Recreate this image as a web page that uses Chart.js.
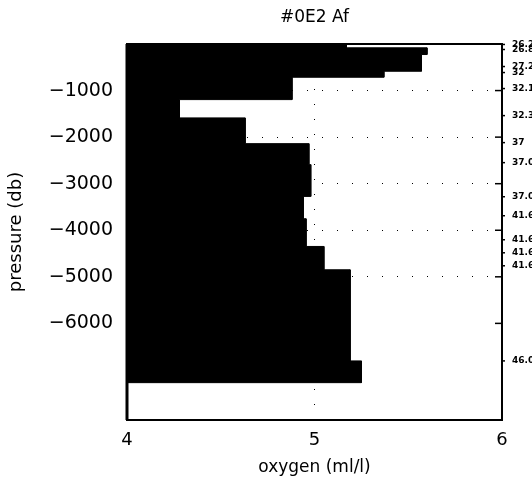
<!DOCTYPE html>
<html>
<head>
<meta charset="utf-8">
<script src="https://cdn.jsdelivr.net/npm/chart.js@4/dist/chart.umd.min.js"></script>
<style>
  html, body { margin: 0; padding: 0; background: #fff; }
</style>
</head>
<body>
<canvas id="chart" width="532" height="481"></canvas>
<script>
// layers of the oxygen profile (pressure in db, oxygen in ml/l)
const layerTop    = [0, -82, -226, -585, -714, -1194, -1587, -2140, -2591, -3273, -3753, -4348, -4849, -6806];
const layerBottom = [-82, -226, -585, -714, -1194, -1587, -2140, -2591, -3273, -3753, -4348, -4849, -6806, -7273];
const oxygen      = [5.17, 5.60, 5.57, 5.37, 4.88, 4.28, 4.63, 4.97, 4.98, 4.94, 4.955, 5.05, 5.19, 5.25];

const xTicks = [4, 5, 6];
const yTicks = [-1000, -2000, -3000, -4000, -5000, -6000];
const yGrid  = [-1000, -2000, -3000, -4000, -5000];

// density labels on the right edge
const sigmaPos    = [-10, -118, -484, -613, -957, -1538, -2118, -2548, -3280, -3688, -4204, -4484, -4763, -6806];
const sigmaLabels = ['26.2', '26.8', '27.2', '32', '32.16', '32.36', '37', '37.04', '37.08', '41.6', '41.63', '41.65', '41.64', '46.08'];

const Y_MIN = -8075;
const FONT = 'DejaVu Sans';

// outline of the filled profile, built from the layers
const outline = [{ x: 4, y: layerTop[0] }];
oxygen.forEach((o, i) => {
  outline.push({ x: o, y: layerTop[i] });
  outline.push({ x: o, y: layerBottom[i] });
});
outline.push({ x: 4, y: layerBottom[layerBottom.length - 1] });

// plot frame + short ticks on the right side
const framePlugin = {
  id: 'frame',
  afterDraw(chart) {
    const { ctx, chartArea: a, scales } = chart;
    ctx.save();
    ctx.strokeStyle = '#000';
    ctx.lineWidth = 2;
    ctx.strokeRect(a.left, a.top, a.right - a.left, a.bottom - a.top);
    ctx.lineWidth = 3;
    ctx.beginPath();
    ctx.moveTo(a.left, a.top);
    ctx.lineTo(a.left, a.bottom);
    ctx.stroke();
    ctx.lineWidth = 1.5;
    yTicks.forEach(v => {
      const py = scales.y.getPixelForValue(v);
      ctx.beginPath();
      ctx.moveTo(a.right - 7, py);
      ctx.lineTo(a.right, py);
      ctx.stroke();
    });
    sigmaPos.forEach(v => {
      const py = scales.y.getPixelForValue(v);
      ctx.beginPath();
      ctx.moveTo(a.right, py);
      ctx.lineTo(a.right + 3, py);
      ctx.stroke();
    });
    ctx.restore();
  }
};

new Chart(document.getElementById('chart'), {
  type: 'scatter',
  data: {
    datasets: [{
      data: outline,
      showLine: true,
      fill: 'shape',
      backgroundColor: '#000',
      borderColor: '#000',
      borderWidth: 1,
      pointRadius: 0,
      tension: 0,
    }],
  },
  options: {
    responsive: false,
    animation: false,
    layout: { padding: 0 },
    plugins: { legend: { display: false }, tooltip: { enabled: false }, title: { display: false } },
    scales: {
      x: {
        type: 'linear', position: 'bottom', min: 4, max: 6,
        afterBuildTicks: s => { s.ticks = xTicks.map(v => ({ value: v })); },
        afterFit: s => { s.height = 61; },
        ticks: { color: '#000', font: { family: FONT, size: 18 }, padding: 10 },
        grid: { color: '#000', lineWidth: 1, drawTicks: false },
        border: { display: false, dash: [1, 14] },
        title: { display: true, text: 'oxygen (ml/l)', color: '#000', font: { family: FONT, size: 17 }, padding: { top: 0, bottom: 3 } },
      },
      x2: {
        type: 'linear', position: 'top', min: 4, max: 6,
        afterFit: s => { s.height = 44; },
        ticks: { display: false },
        grid: { display: false },
        border: { display: false },
        title: { display: true, text: '#0E2 Af', color: '#000', font: { family: FONT, size: 17 }, padding: { top: 7, bottom: 0 } },
      },
      y: {
        type: 'linear', position: 'left', min: Y_MIN, max: 0,
        afterBuildTicks: s => { s.ticks = yTicks.map(v => ({ value: v })); },
        afterFit: s => { s.width = 127; },
        ticks: { color: '#000', font: { family: FONT, size: 19 }, padding: 14, callback: v => '\u2212' + Math.abs(v) },
        grid: {
          color: c => (c.tick && yGrid.includes(c.tick.value)) ? '#000' : 'rgba(0,0,0,0)',
          lineWidth: 1, drawTicks: false,
        },
        border: { display: false, dash: [1, 14] },
        title: { display: true, text: 'pressure (db)', color: '#000', font: { family: FONT, size: 18 }, padding: { top: 6, bottom: 0 } },
      },
      y2: {
        type: 'linear', position: 'right', min: Y_MIN, max: 0,
        afterBuildTicks: s => { s.ticks = sigmaPos.map(v => ({ value: v })); },
        afterFit: s => { s.width = 30; },
        ticks: {
          color: '#000', autoSkip: false, padding: 2,
          font: { family: FONT, size: 9, weight: 'bold' },
          callback: (v, i) => sigmaLabels[i],
        },
        grid: { display: false },
        border: { display: false },
      },
    },
  },
  plugins: [framePlugin],
});
</script>
</body>
</html>
